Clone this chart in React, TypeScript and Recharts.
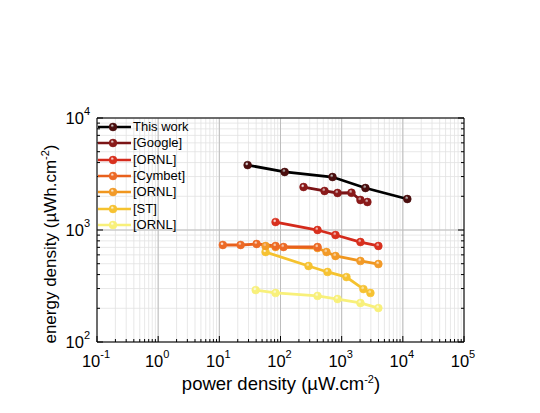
import { LineChart, Line, XAxis, YAxis, CartesianGrid } from "recharts"

// values (power density µW/cm², energy density µWh/cm²)
const thisWorkX = [29, 117, 708, 2445, 11840]
const thisWorkY = [3800, 3296, 2972, 2371, 1891]
const googleX = [238, 525, 855, 1445, 2027, 2633]
const googleY = [2420, 2230, 2140, 2150, 1853, 1778]
const ornlRedX = [83, 403, 792, 2027, 3981]
const ornlRedY = [1178, 1000, 902, 781, 720]
const cymbetX = [11.4, 22.3, 40.7, 83, 112, 403]
const cymbetY = [735, 735, 750, 720, 705, 705]
const ornlOrangeX = [57, 83, 403, 565, 792, 2027, 3981]
const ornlOrangeY = [720, 705, 690, 636, 586, 529, 497]
const stX = [57, 287, 587, 1197, 2268, 2951]
const stY = [636, 477, 422, 380, 297, 274]
const ornlYellowX = [39.3, 83, 403, 855, 2027, 3981]
const ornlYellowY = [291, 274, 258, 242, 223, 201]

const seriesNames = ["This work", "[Google]", "[ORNL]", "[Cymbet]", "[ORNL]", "[ST]", "[ORNL]"]
const lineColors = ["#000000", "#7b1416", "#d42a1c", "#e8601c", "#f0961e", "#f5c22e", "#f8f07a"]
const dotColors = ["#4a0e0e", "#8a1a1a", "#d8301e", "#ec6a26", "#f29a28", "#f6c232", "#f8f07a"]

const xDecades = [0.1, 1, 10, 100, 1000, 10000, 100000]
const yDecades = [100, 1000, 10000]

const W = 540
const H = 413
const PLOT = { left: 97, top: 118, right: 464, bottom: 342 }
const AX = { left: 40, right: 10, top: 10, bottom: 30 }

const withMinors = (decades: number[]) => {
  const out: number[] = []
  decades.forEach((d, i) => {
    out.push(d)
    if (i < decades.length - 1) for (let k = 2; k <= 9; k++) out.push(d * k)
  })
  return out
}
const xTicks = withMinors(xDecades)
const yTicks = withMinors(yDecades)
const isDecade = (v: number) => Math.abs(Math.log10(v) - Math.round(Math.log10(v))) < 1e-6

const zip = (xs: number[], ys: number[]) => xs.map((x, i) => ({ x, y: ys[i] }))
const series = [
  zip(thisWorkX, thisWorkY),
  zip(googleX, googleY),
  zip(ornlRedX, ornlRedY),
  zip(cymbetX, cymbetY),
  zip(ornlOrangeX, ornlOrangeY),
  zip(stX, stY),
  zip(ornlYellowX, ornlYellowY),
]

const FONT = "'Liberation Sans', Arial, sans-serif"

function Pow({ v, ...rest }: any) {
  const e = Math.round(Math.log10(v))
  return (
    <text {...rest} fontFamily={FONT} fill="#000">
      <tspan fontSize={16.5}>10</tspan>
      <tspan fontSize={11} dy={-9}>{e}</tspan>
    </text>
  )
}

function BottomTick({ x, payload }: any) {
  const v = payload.value
  const major = isDecade(v)
  return (
    <g>
      <line x1={x} x2={x} y1={PLOT.bottom} y2={PLOT.bottom - (major ? 6 : 3)} stroke="#000" />
      {major && <Pow v={v} x={x - 1} y={PLOT.bottom + 25} textAnchor="middle" />}
    </g>
  )
}
function TopTick({ x, payload }: any) {
  const major = isDecade(payload.value)
  return <line x1={x} x2={x} y1={PLOT.top} y2={PLOT.top + (major ? 6 : 3)} stroke="#000" />
}
function LeftTick({ y, payload }: any) {
  const v = payload.value
  const major = isDecade(v)
  return (
    <g>
      <line x1={PLOT.left} x2={PLOT.left + (major ? 6 : 3)} y1={y} y2={y} stroke="#000" />
      {major && <Pow v={v} x={PLOT.left - 7} y={y + 6} textAnchor="end" />}
    </g>
  )
}
function RightTick({ y, payload }: any) {
  const major = isDecade(payload.value)
  return <line x1={PLOT.right} x2={PLOT.right - (major ? 6 : 3)} y1={y} y2={y} stroke="#000" />
}

function LegendBox() {
  return (
    <div style={{ position: "absolute", left: PLOT.left + 1, top: 119, fontFamily: FONT, fontSize: 13 }}>
      {seriesNames.map((n, i) => (
        <div key={i} style={{ display: "flex", alignItems: "center", height: 16.3 }}>
          <svg width={34} height={14} style={{ marginRight: 1 }}>
            <line x1={0} x2={33} y1={7} y2={7} stroke={lineColors[i]} strokeWidth={2.7} />
            <circle cx={15} cy={7} r={3.9} fill={`url(#g${i})`} stroke={dotColors[i]} strokeWidth={0.6} />
          </svg>
          <span style={{ lineHeight: "14px" }}>{n}</span>
        </div>
      ))}
    </div>
  )
}

const axisCommon = {
  type: "number" as const,
  scale: "log" as const,
  interval: 0 as const,
  allowDataOverflow: true,
  tickLine: false,
  stroke: "#000",
  axisLine: { stroke: "#000", strokeWidth: 1 },
}

export default function App() {
  return (
    <div style={{ position: "absolute", left: 0, top: 0, width: W, height: H, background: "#fff" }}>
      <svg width={1} height={1} style={{ position: "absolute" }}>
        <defs>
          {dotColors.map((c, i) => (
            <radialGradient key={i} id={`g${i}`} cx="40%" cy="35%" r="65%">
              <stop offset="0%" stopColor="#ffffff" stopOpacity={0.55} />
              <stop offset="35%" stopColor={c} />
              <stop offset="100%" stopColor={c} />
            </radialGradient>
          ))}
        </defs>
      </svg>
      <LineChart
        width={W}
        height={H}
        margin={{
          top: PLOT.top - AX.top,
          right: W - PLOT.right - AX.right,
          bottom: H - PLOT.bottom - AX.bottom,
          left: PLOT.left - AX.left,
        }}
      >
        <CartesianGrid stroke="#e2e2e2" strokeWidth={0.8} />
        <CartesianGrid
          stroke="#bdbdbd"
          strokeWidth={1}
          horizontalValues={yDecades}
          verticalValues={xDecades}
        />
        <XAxis
          {...axisCommon}
          dataKey="x"
          domain={[0.1, 100000]}
          ticks={xTicks}
          height={AX.bottom}
          tick={<BottomTick />}
        />
        <XAxis
          {...axisCommon}
          xAxisId="top"
          orientation="top"
          domain={[0.1, 100000]}
          ticks={xTicks}
          height={AX.top}
          tick={<TopTick />}
        />
        <YAxis
          {...axisCommon}
          dataKey="y"
          domain={[100, 10000]}
          ticks={yTicks}
          width={AX.left}
          tick={<LeftTick />}
        />
        <YAxis
          {...axisCommon}
          yAxisId="right"
          orientation="right"
          domain={[100, 10000]}
          ticks={yTicks}
          width={AX.right}
          tick={<RightTick />}
        />
        {series.map((d, i) => (
          <Line
            key={i}
            data={d}
            dataKey="y"
            type="linear"
            stroke={lineColors[i]}
            strokeWidth={2.8}
            dot={{ r: 3.9, fill: `url(#g${i})`, stroke: dotColors[i], strokeWidth: 0.6 }}
            isAnimationActive={false}
            name={seriesNames[i]}
          />
        )).reverse()}
      </LineChart>
      <LegendBox />
      <div
        style={{
          position: "absolute", left: 50, top: 244, transform: "translate(-50%, -50%) rotate(-90deg)",
          whiteSpace: "nowrap", fontFamily: FONT, fontSize: 17,
        }}
      >
        energy density (µWh.cm<sup style={{ fontSize: 11 }}>-2</sup>)
      </div>
      <div
        style={{
          position: "absolute", left: 281, top: 384, transform: "translate(-50%, -50%)",
          whiteSpace: "nowrap", fontFamily: FONT, fontSize: 18.5,
        }}
      >
        power density (µW.cm<sup style={{ fontSize: 11 }}>-2</sup>)
      </div>
    </div>
  )
}
